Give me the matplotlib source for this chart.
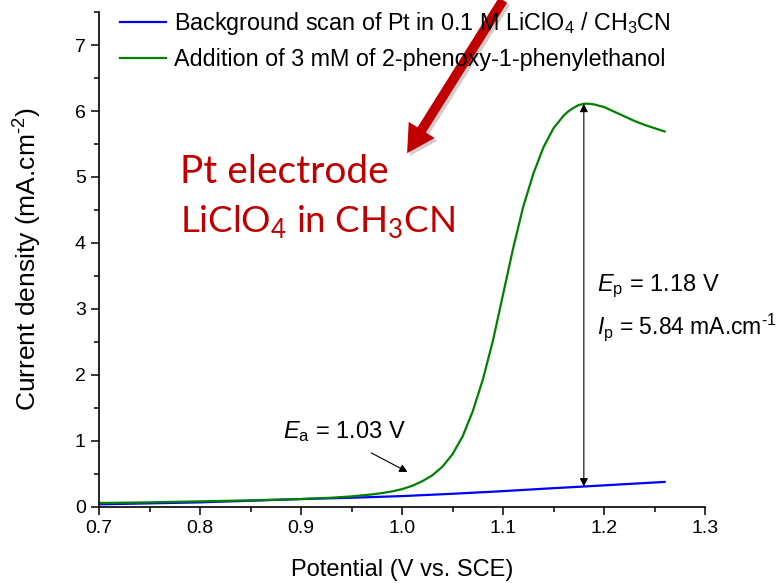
import matplotlib
matplotlib.use("Agg")
import matplotlib.pyplot as plt
from matplotlib.ticker import MultipleLocator, FormatStrFormatter
import matplotlib.patheffects as pe

plt.rcParams['font.family'] = ['Liberation Sans', 'DejaVu Sans']
plt.rcParams['mathtext.fontset'] = 'custom'
plt.rcParams['mathtext.rm'] = 'Liberation Sans'
plt.rcParams['mathtext.it'] = 'Liberation Sans:italic'
plt.rcParams['mathtext.sf'] = 'Lato'

# 背景扫描 (blue)
bg_x = [0.70, 0.75, 0.80, 0.85, 0.90, 0.95, 1.00, 1.05, 1.10, 1.15, 1.18, 1.22, 1.26]
bg_y = [0.04, 0.055, 0.07, 0.095, 0.12, 0.14, 0.165, 0.20, 0.24, 0.285, 0.31, 0.345, 0.38]

# 加入底物后 (green)
ox_x = [0.70, 0.75, 0.80, 0.85, 0.90, 0.93, 0.95, 0.97, 0.98, 0.99, 1.00, 1.01,
        1.02, 1.03, 1.04, 1.05, 1.06, 1.07, 1.08, 1.09, 1.10, 1.11, 1.12, 1.13,
        1.14, 1.15, 1.16, 1.165, 1.17, 1.175, 1.18, 1.185, 1.19, 1.20, 1.21, 1.22,
        1.23, 1.24, 1.25, 1.26]
ox_y = [0.06, 0.07, 0.085, 0.10, 0.12, 0.14, 0.16, 0.19, 0.21, 0.235, 0.27, 0.32,
        0.39, 0.48, 0.61, 0.80, 1.07, 1.45, 1.93, 2.52, 3.22, 3.92, 4.55, 5.05,
        5.45, 5.74, 5.93, 6.00, 6.05, 6.09, 6.11, 6.11, 6.10, 6.06, 5.99, 5.92,
        5.85, 5.79, 5.74, 5.69]

labels = ['Background scan of Pt in 0.1 M LiClO$_4$ / CH$_3$CN',
          'Addition of 3 mM of 2-phenoxy-1-phenylethanol']

Ea = 1.03
Ep = 1.18
Ip = 5.84

fig = plt.figure(figsize=(7.84, 5.83), dpi=100)
ax = fig.add_axes([0.1263, 0.1304, 0.7730, 0.8490])

ax.plot(bg_x, bg_y, color='#0000ff', lw=1.6, label=labels[0])
ax.plot(ox_x, ox_y, color='#008000', lw=1.6, label=labels[1])

ax.set_xlim(0.7, 1.3)
ax.set_ylim(0, 7.5)
ax.xaxis.set_major_locator(MultipleLocator(0.1))
ax.xaxis.set_minor_locator(MultipleLocator(0.05))
ax.yaxis.set_major_locator(MultipleLocator(1))
ax.yaxis.set_minor_locator(MultipleLocator(0.5))
ax.xaxis.set_major_formatter(FormatStrFormatter('%.1f'))
ax.spines['top'].set_visible(False)
ax.spines['right'].set_visible(False)
for s in ['left', 'bottom']:
    ax.spines[s].set_linewidth(1.2)
ax.tick_params(which='major', direction='out', length=6, width=1.1, labelsize=14)
ax.tick_params(which='minor', direction='out', length=3.5, width=1.1)

ax.set_xlabel('Potential (V vs. SCE)', fontsize=17, labelpad=16)
ax.set_ylabel('Current density (mA.cm$^{\\text{-}2}$)', fontsize=19, labelpad=22)

ax.legend(loc='upper left', bbox_to_anchor=(0.012, 1.032), frameon=False,
          fontsize=16.8, handlelength=1.95, handletextpad=0.35, labelspacing=0.45,
          borderaxespad=0.2)

# Ea
ax.annotate('', xy=(1.008, 0.51), xytext=(0.967, 0.84),
            arrowprops=dict(arrowstyle='-|>', color='black', lw=0.8, mutation_scale=12))
ax.text(0.882, 1.14, '$E_\\mathrm{a}$ = %.2f V' % Ea, fontsize=17, va='center')

# Ep / Ip
ax.annotate('', xy=(Ep, 6.11), xytext=(Ep, 0.31),
            arrowprops=dict(arrowstyle='<|-|>', color='black', lw=0.8,
                            mutation_scale=12, shrinkA=0, shrinkB=0))
ax.text(1.193, 3.34, '$E_\\mathrm{p}$ = %.2f V' % Ep, fontsize=17, va='center')
ax.text(1.193, 2.73, '$I_\\mathrm{p}$ = %.2f mA.cm$^{\\text{-}1}$' % Ip, fontsize=16.5,
        va='center', clip_on=False)

# red note
red = '#C00000'
ax.text(0.780, 5.08, 'Pt electrode', color=red, fontsize=28, family='Lato', va='center')
ax.text(0.780, 4.33, 'LiClO$_\\mathsf{4}$ in CH$_\\mathsf{3}$CN', color=red, fontsize=26.5,
        family='Lato', va='center')
ax.annotate('', xy=(1.005, 5.36), xytext=(1.10, 7.68), annotation_clip=False,
            arrowprops=dict(arrowstyle='simple,head_length=0.9,head_width=1.0,tail_width=0.32',
                            color=red, lw=0, mutation_scale=22, shrinkA=0, shrinkB=0,
                            path_effects=[pe.SimplePatchShadow(offset=(2, -2), alpha=0.2),
                                          pe.Normal()]))

fig.savefig('out.png', dpi=100)
